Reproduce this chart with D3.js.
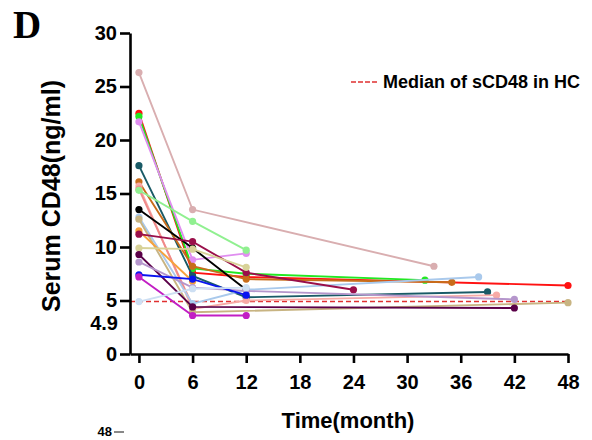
<!DOCTYPE html>
<html>
<head>
<meta charset="utf-8">
<script src="https://cdn.jsdelivr.net/npm/d3@7"></script>
<style>
  html, body { margin: 0; padding: 0; background: #fff; }
  svg { display: block; font-family: "Liberation Sans", Arial, sans-serif; }
</style>
</head>
<body>
<div id="chart"></div>
<script>
// Data (time in months, sCD48 in ng/ml)
const xTicks = [0, 6, 12, 18, 24, 30, 36, 42, 48];
const yTicks = [0, 5, 10, 15, 20, 25, 30];
const hcMedian = 4.9;

const seriesTimes = [
  [0, 6, 33],
  [0, 6, 12, 48],
  [0, 6, 12, 32],
  [0, 6, 12],
  [0, 6, 12, 39],
  [0, 6, 12, 35],
  [0, 6, 12, 40],
  [0, 6],
  [0, 6, 12],
  [0, 6, 12],
  [0, 6, 12, 38],
  [0, 6, 48],
  [0, 6],
  [0, 6, 12, 24],
  [0, 6, 12],
  [0, 6, 42],
  [0, 6, 12, 42],
  [0, 6, 12],
  [0, 6, 12],
  [0, 6, 12]
];
const seriesValues = [
  [26.3, 13.5, 8.2],
  [22.5, 7.6, 7.2, 6.4],
  [22.2, 8.0, 7.5, 6.9],
  [21.7, 8.8, 9.4],
  [17.6, 7.3, 5.3, 5.8],
  [16.1, 8.2, 7.0, 6.7],
  [15.7, 4.2, 5.0, 5.5],
  [15.4, 4.5],
  [15.3, 12.4, 9.7],
  [13.5, 9.9, 6.0],
  [12.8, 4.7, 6.0, 7.2],
  [12.6, 3.9, 4.8],
  [11.5, 6.8],
  [11.2, 10.5, 7.6, 6.0],
  [9.9, 9.8, 8.1],
  [9.3, 4.4, 4.3],
  [8.6, 6.2, 5.9, 5.1],
  [7.4, 7.0, 5.5],
  [7.2, 3.6, 3.6],
  [4.9, 6.1, 6.2]
];
const seriesColors = [
  '#d9aeb0', '#ff1212', '#22e822', '#e08ef0', '#195a66',
  '#c86c1a', '#f7aaa6', '#f08a8a', '#90f090', '#000000',
  '#a9c9ec', '#c8b482', '#f7a23c', '#9a0f4a', '#d8d298',
  '#5a0048', '#b596cc', '#0a14f0', '#c21ec4', '#cddff3'
];

const W = 592, H = 440;
const svg = d3.select('#chart').append('svg').attr('width', W).attr('height', H);

const x = d3.scaleLinear().domain([-1, 48]).range([130, 568]);
const y = d3.scaleLinear().domain([0, 30]).range([354, 33]);

// Panel letter
svg.append('text')
  .attr('x', 13).attr('y', 38)
  .attr('font-family', '"Liberation Serif", "Times New Roman", serif')
  .attr('font-weight', 'bold').attr('font-size', 39)
  .text('D');

// HC median line
svg.append('line')
  .attr('x1', x(-1)).attr('x2', x(48))
  .attr('y1', y(hcMedian)).attr('y2', y(hcMedian))
  .attr('stroke', '#e03030').attr('stroke-width', 1.6)
  .attr('stroke-dasharray', '5,3');

// Patient lines
const line = d3.line().x(d => x(d[0])).y(d => y(d[1]));
seriesTimes.forEach((times, i) => {
  const pts = times.map((t, j) => [t, seriesValues[i][j]]);
  const g = svg.append('g');
  g.append('path')
    .datum(pts)
    .attr('fill', 'none')
    .attr('stroke', seriesColors[i])
    .attr('stroke-width', 1.9)
    .attr('d', line);
  g.selectAll('circle').data(pts).join('circle')
    .attr('cx', d => x(d[0])).attr('cy', d => y(d[1]))
    .attr('r', 3.6).attr('fill', seriesColors[i]);
});

// Axes
const styleAxis = g => {
  g.select('.domain').attr('stroke', '#000').attr('stroke-width', 2.6);
  g.selectAll('.tick line').attr('stroke', '#000').attr('stroke-width', 2.6);
  g.selectAll('.tick text')
    .attr('font-family', '"Liberation Sans", Arial, sans-serif')
    .attr('font-weight', 'bold').attr('font-size', 20).attr('fill', '#000');
};

svg.append('g')
  .attr('transform', `translate(0,${y(0)})`)
  .call(d3.axisBottom(x).tickValues(xTicks).tickSize(9).tickSizeOuter(0).tickPadding(12))
  .call(styleAxis);

svg.append('g')
  .attr('transform', `translate(${x(-1)},0)`)
  .call(d3.axisLeft(y).tickValues(yTicks).tickSize(10).tickSizeOuter(0).tickPadding(3))
  .call(styleAxis);

// "4.9" annotation under the 5 tick
svg.append('text')
  .attr('x', 118).attr('y', y(hcMedian) + 28)
  .attr('text-anchor', 'end')
  .attr('font-weight', 'bold').attr('font-size', 20)
  .text('4.9');

// Axis titles
svg.append('text')
  .attr('x', 348).attr('y', 428)
  .attr('text-anchor', 'middle')
  .attr('font-weight', 'bold').attr('font-size', 22)
  .text('Time(month)');

svg.append('text')
  .attr('transform', 'translate(60,196) rotate(-90)')
  .attr('text-anchor', 'middle')
  .attr('font-weight', 'bold').attr('font-size', 25)
  .text('Serum CD48(ng/ml)');

// Legend
svg.append('line')
  .attr('x1', 351).attr('x2', 377).attr('y1', 82).attr('y2', 82)
  .attr('stroke', '#e03030').attr('stroke-width', 1.6)
  .attr('stroke-dasharray', '5,2');
svg.append('text')
  .attr('x', 383).attr('y', 88)
  .attr('font-weight', 'bold').attr('font-size', 18)
  .text('Median of sCD48 in HC');

// Top of the next panel's axis, at the bottom edge
svg.append('text')
  .attr('x', 112).attr('y', 436)
  .attr('text-anchor', 'end')
  .attr('font-weight', 'bold').attr('font-size', 13)
  .text('48');
svg.append('line')
  .attr('x1', 114).attr('x2', 124).attr('y1', 432).attr('y2', 432)
  .attr('stroke', '#888').attr('stroke-width', 2);
</script>
</body>
</html>
